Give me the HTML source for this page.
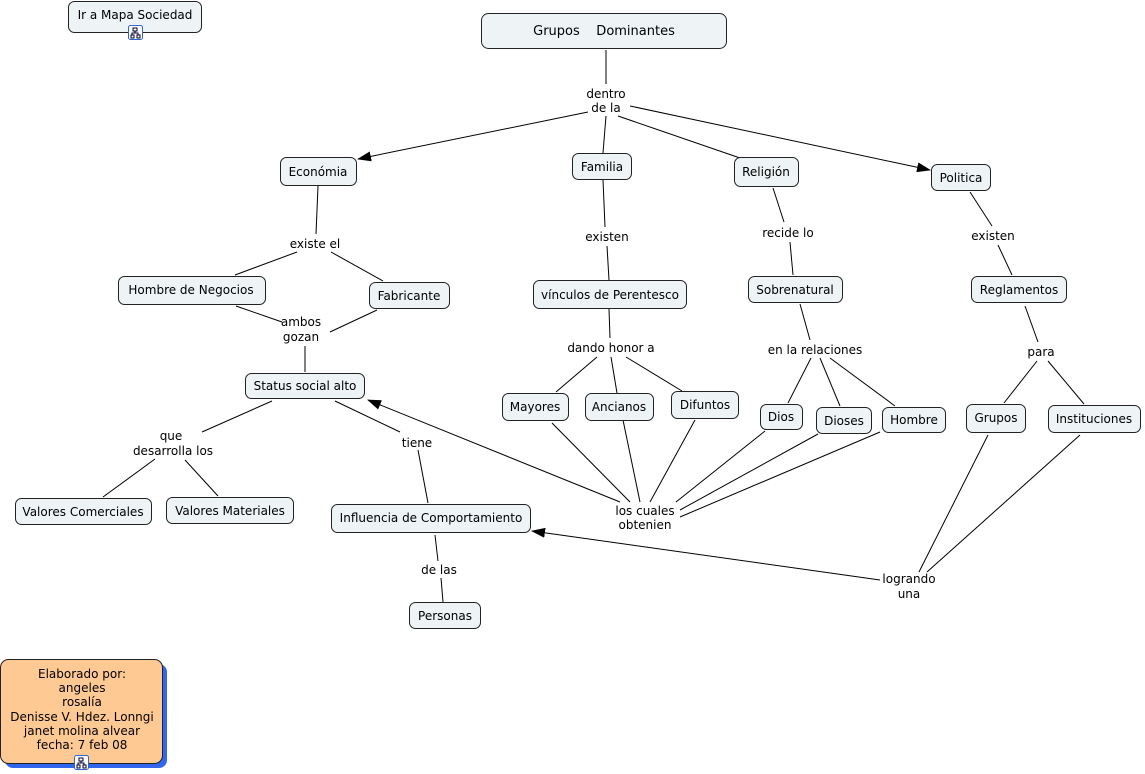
<!DOCTYPE html>
<html><head><meta charset="utf-8"><style>
html,body{margin:0;padding:0;background:#fff;}
svg{display:block;font-family:"DejaVu Sans","Liberation Sans",sans-serif;font-size:12px;}
.n{fill:#eef3f5;stroke:#222;stroke-width:1;}
.l{stroke:#000;stroke-width:1;fill:none;}
text{fill:#000;text-anchor:middle;}
</style></head><body>
<svg width="1145" height="774" viewBox="0 0 1145 774">
<defs><marker id="a" markerWidth="14" markerHeight="10" refX="13" refY="5" orient="auto" markerUnits="userSpaceOnUse"><path d="M0,0 L14,5 L0,10 z" fill="#000"/></marker></defs>
<!-- lines -->
<g class="l">
<line x1="606" y1="50" x2="606" y2="84"/>
<line x1="588" y1="112" x2="358" y2="159" marker-end="url(#a)"/>
<line x1="606" y1="116" x2="603" y2="153"/>
<line x1="618" y1="116" x2="740" y2="158"/>
<line x1="630" y1="106" x2="930" y2="170" marker-end="url(#a)"/>
<line x1="318" y1="186" x2="316" y2="234"/>
<line x1="297" y1="252" x2="235" y2="275"/>
<line x1="331" y1="252" x2="383" y2="281"/>
<line x1="236" y1="306" x2="282" y2="322"/>
<line x1="377" y1="310" x2="330" y2="332"/>
<line x1="305" y1="346" x2="305" y2="372"/>
<line x1="603" y1="180" x2="605" y2="227"/>
<line x1="607" y1="246" x2="609" y2="280"/>
<line x1="609" y1="309" x2="610" y2="338"/>
<line x1="597" y1="357" x2="556" y2="392"/>
<line x1="611" y1="357" x2="617" y2="393"/>
<line x1="626" y1="357" x2="682" y2="391"/>
<line x1="773" y1="188" x2="784" y2="222"/>
<line x1="790" y1="242" x2="793" y2="275"/>
<line x1="800" y1="304" x2="810" y2="340"/>
<line x1="811" y1="358" x2="788" y2="403"/>
<line x1="820" y1="358" x2="840" y2="406"/>
<line x1="830" y1="358" x2="895" y2="406"/>
<line x1="970" y1="192" x2="992" y2="226"/>
<line x1="998" y1="245" x2="1012" y2="275"/>
<line x1="1025" y1="306" x2="1038" y2="342"/>
<line x1="1037" y1="361" x2="1004" y2="403"/>
<line x1="1048" y1="361" x2="1084" y2="404"/>
<line x1="272" y1="401" x2="202" y2="432"/>
<line x1="103" y1="497" x2="155" y2="459"/>
<line x1="185" y1="460" x2="218" y2="496"/>
<line x1="335" y1="401" x2="400" y2="432"/>
<line x1="418" y1="450" x2="428" y2="503"/>
<line x1="552" y1="423" x2="630" y2="502"/>
<line x1="623" y1="420" x2="640" y2="502"/>
<line x1="695" y1="420" x2="650" y2="502"/>
<line x1="765" y1="431" x2="676" y2="502"/>
<line x1="818" y1="434" x2="680" y2="510"/>
<line x1="880" y1="432" x2="680" y2="517"/>
<line x1="620" y1="502" x2="368" y2="400" marker-end="url(#a)"/>
<line x1="435" y1="535" x2="438" y2="561"/>
<line x1="441" y1="578" x2="443" y2="602"/>
<line x1="988" y1="435" x2="919" y2="572"/>
<line x1="1080" y1="435" x2="927" y2="572"/>
<line x1="880" y1="580" x2="532" y2="531" marker-end="url(#a)"/>
</g>
<!-- nodes -->
<rect class="n" x="68.5" y="1.5" width="133" height="31" rx="6"/><text x="135" y="19">Ir a Mapa Sociedad</text>
<rect class="n" x="481.5" y="13.5" width="245" height="35" rx="7"/><text x="604" y="35" font-size="13">Grupos&#160;&#160;&#160;&#160;Dominantes</text>
<rect class="n" x="280.5" y="157.5" width="76" height="28" rx="6"/><text x="318" y="176">Económia</text>
<rect class="n" x="572.5" y="153.5" width="59" height="26" rx="6"/><text x="602" y="171">Familia</text>
<rect class="n" x="734.5" y="157.5" width="64" height="29" rx="6"/><text x="766" y="176">Religión</text>
<rect class="n" x="931.5" y="164.5" width="59" height="26" rx="6"/><text x="961" y="182">Politica</text>
<rect class="n" x="118.5" y="276.5" width="147" height="28" rx="6"/><text x="191" y="294">Hombre de Negocios</text>
<rect class="n" x="369.5" y="282.5" width="80" height="26" rx="6"/><text x="409" y="300">Fabricante</text>
<rect class="n" x="533.5" y="280.5" width="153" height="28" rx="6"/><text x="610" y="299">vínculos de Perentesco</text>
<rect class="n" x="748.5" y="276.5" width="94" height="26" rx="6"/><text x="795" y="294">Sobrenatural</text>
<rect class="n" x="971.5" y="276.5" width="95" height="26" rx="6"/><text x="1019" y="294">Reglamentos</text>
<rect class="n" x="245.5" y="373.5" width="119" height="25" rx="6"/><text x="305" y="390">Status social alto</text>
<rect class="n" x="502.5" y="393.5" width="66" height="27" rx="6"/><text x="535" y="411">Mayores</text>
<rect class="n" x="585.5" y="393.5" width="68" height="27" rx="6"/><text x="619" y="411">Ancianos</text>
<rect class="n" x="671.5" y="391.5" width="67" height="27" rx="6"/><text x="705" y="409">Difuntos</text>
<rect class="n" x="760.5" y="404.5" width="42" height="25" rx="6"/><text x="781" y="421">Dios</text>
<rect class="n" x="816.5" y="407.5" width="55" height="26" rx="6"/><text x="844" y="425">Dioses</text>
<rect class="n" x="882.5" y="407.5" width="63" height="25" rx="6"/><text x="914" y="424">Hombre</text>
<rect class="n" x="966.5" y="404.5" width="59" height="28" rx="6"/><text x="996" y="422">Grupos</text>
<rect class="n" x="1048.5" y="405.5" width="92" height="27" rx="6"/><text x="1094" y="423">Instituciones</text>
<rect class="n" x="15.5" y="498.5" width="136" height="26" rx="6"/><text x="83" y="516">Valores Comerciales</text>
<rect class="n" x="166.5" y="497.5" width="127" height="26" rx="6"/><text x="230" y="515">Valores Materiales</text>
<rect class="n" x="331.5" y="504.5" width="199" height="28" rx="6"/><text x="431" y="522">Influencia de Comportamiento</text>
<rect class="n" x="409.5" y="602.5" width="71" height="26" rx="6"/><text x="445" y="620">Personas</text>
<!-- credits -->
<rect x="5" y="664" width="162" height="104" rx="8" fill="#3366ee"/>
<rect x="0.5" y="659.5" width="162" height="104" rx="8" fill="#ffc993" stroke="#222"/>
<text x="82" y="678">Elaborado por:</text>
<text x="82" y="692">angeles</text>
<text x="82" y="706">rosalía</text>
<text x="82" y="721">Denisse V. Hdez. Lonngi</text>
<text x="82" y="735">janet molina alvear</text>
<text x="82" y="749">fecha: 7 feb 08</text>
<!-- icons -->
<g><rect x="128.5" y="25.5" width="14" height="14" rx="2" fill="#fff" stroke="#3366cc"/><path d="M133,28h4v3h-4zM131,35h3v3h-3zM137,35h3v3h-3zM135,31v2h-3v2M135,33h3v2" stroke="#003" fill="none"/></g>
<g><rect x="74.5" y="755.5" width="14" height="14" rx="2" fill="#fff" stroke="#3366cc"/><path d="M79,758h4v3h-4zM77,765h3v3h-3zM83,765h3v3h-3zM81,761v2h-3v2M81,763h3v2" stroke="#003" fill="none"/></g>
<!-- labels -->
<g>
<text x="606" y="98">dentro</text><text x="606" y="112">de la</text>
<text x="315" y="248">existe el</text>
<text x="607" y="241">existen</text>
<text x="788" y="237">recide lo</text>
<text x="993" y="240">existen</text>
<text x="301" y="326">ambos</text><text x="301" y="341">gozan</text>
<text x="611" y="352">dando honor a</text>
<text x="815" y="354">en la relaciones</text>
<text x="1041" y="356">para</text>
<text x="171" y="440">que</text><text x="173" y="455">desarrolla los</text>
<text x="417" y="447">tiene</text>
<text x="645" y="515">los cuales</text><text x="645" y="529">obtenien</text>
<text x="439" y="574">de las</text>
<text x="909" y="583">logrando</text><text x="909" y="598">una</text>
</g>
</svg>
</body></html>
